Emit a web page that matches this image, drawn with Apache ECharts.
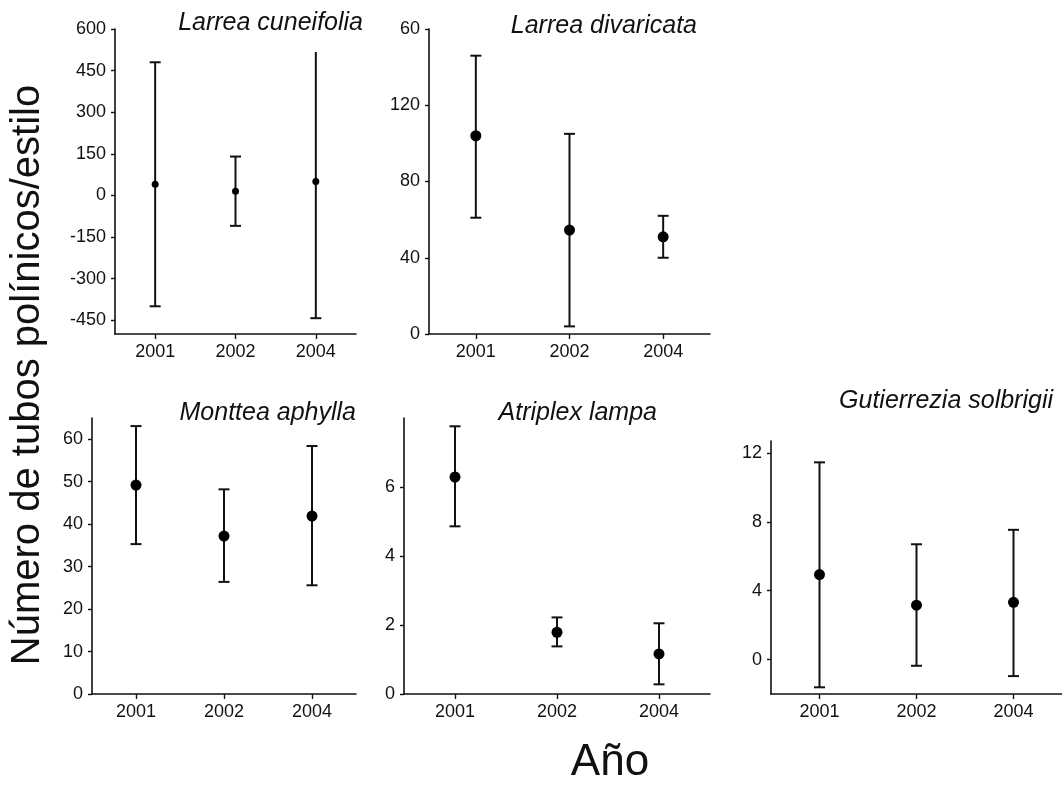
<!DOCTYPE html>
<html>
<head>
<meta charset="utf-8">
<script src="https://cdn.jsdelivr.net/npm/echarts@6/dist/echarts.min.js"></script>
<style>
html,body{margin:0;padding:0;background:#fff;}
#c{width:1062px;height:789px;}
</style>
</head>
<body>
<div id="c"></div>
<script>
// ---- data ----
const categories = ['2001', '2002', '2004'];

const lcTitle = 'Larrea cuneifolia';
const lcMean = [40, 15, 50];
const lcLow  = [-400, -110, -443];
const lcHigh = [480, 140, 517];
const lcTicks = [-450, -300, -150, 0, 150, 300, 450, 600];

const ldTitle = 'Larrea divaricata';
const ldMean = [104, 54.5, 51];
const ldLow  = [61, 4, 40];
const ldHigh = [146, 105, 62];
const ldTicks = [0, 40, 80, 120, 160];
const ldTickLabels = ['0', '40', '80', '120', '60'];

const maTitle = 'Monttea aphylla';
const maMean = [49.2, 37.2, 41.9];
const maLow  = [35.3, 26.4, 25.6];
const maHigh = [63.1, 48.2, 58.4];
const maTicks = [0, 10, 20, 30, 40, 50, 60];

const alTitle = 'Atriplex lampa';
const alMean = [6.29, 1.79, 1.16];
const alLow  = [4.86, 1.38, 0.28];
const alHigh = [7.76, 2.22, 2.05];
const alTicks = [0, 2, 4, 6];

const gsTitle = 'Gutierrezia solbrigii';
const gsMean = [4.94, 3.16, 3.33];
const gsLow  = [-1.61, -0.36, -0.96];
const gsHigh = [11.46, 6.70, 7.54];
const gsTicks = [0, 4, 8, 12];

const yTitle = 'Número de tubos polínicos/estilo';
const xTitle = 'Año';

// ---- layout / styles ----
const INK = '#111';
const FONT = "'Liberation Sans', Arial, Helvetica, sans-serif";

const panels = [
  {mean: lcMean, low: lcLow, high: lcHigh, min: -500, max: 600, ticks: lcTicks, labels: null,
   grid: {left: 115, top: 29, width: 241, height: 305}, sym: 7, capTop: [true, true, false]},
  {mean: ldMean, low: ldLow, high: ldHigh, min: 0, max: 160, ticks: ldTicks, labels: ldTickLabels,
   grid: {left: 429, top: 29, width: 281, height: 305}, sym: 11},
  {mean: maMean, low: maLow, high: maHigh, min: 0, max: 65, ticks: maTicks, labels: null,
   grid: {left: 92, top: 418, width: 264, height: 276}, sym: 11},
  {mean: alMean, low: alLow, high: alHigh, min: 0, max: 8, ticks: alTicks, labels: null,
   grid: {left: 404, top: 418, width: 306, height: 276}, sym: 11},
  {mean: gsMean, low: gsLow, high: gsHigh, min: -2, max: 12.7, ticks: gsTicks, labels: null,
   grid: {left: 771, top: 441, width: 291, height: 253}, sym: 11}
];

const titles = [
  {text: lcTitle, x: 363, y: 36},
  {text: ldTitle, x: 697, y: 39},
  {text: maTitle, x: 356, y: 426},
  {text: alTitle, x: 657, y: 426},
  {text: gsTitle, x: 1053, y: 414}
];

const grids = [], xAxes = [], yAxes = [], series = [];

panels.forEach((p, i) => {
  grids.push(Object.assign({containLabel: false}, p.grid));
  xAxes.push({
    type: 'category', gridIndex: i, data: categories, boundaryGap: true,
    axisLine: {show: true, onZero: false, lineStyle: {color: INK, width: 1.6}},
    axisTick: {show: true, alignWithLabel: true, length: 5, lineStyle: {color: INK, width: 1.4}},
    axisLabel: {color: INK, fontSize: 18, fontFamily: FONT, margin: 9},
    splitLine: {show: false}
  });
  const yl = {
    color: INK, fontSize: 18, fontFamily: FONT, margin: 9,
    customValues: p.ticks
  };
  if (p.labels) {
    const labs = p.labels, tks = p.ticks;
    yl.formatter = v => { const k = tks.indexOf(v); return k >= 0 ? labs[k] : ''; };
  }
  yAxes.push({
    type: 'value', gridIndex: i, min: p.min, max: p.max,
    axisLine: {show: true, onZero: false, lineStyle: {color: INK, width: 1.6}},
    axisTick: {show: true, length: 4, customValues: p.ticks, lineStyle: {color: INK, width: 1.4}},
    axisLabel: yl,
    splitLine: {show: false}
  });
  const capTop = p.capTop || [true, true, true];
  series.push({
    type: 'custom', xAxisIndex: i, yAxisIndex: i,
    data: p.mean.map((m, k) => [k, p.low[k], p.high[k]]),
    encode: {x: 0, y: [1, 2]},
    renderItem: (params, api) => {
      const k = api.value(0);
      const lo = api.coord([k, api.value(1)]);
      const hi = api.coord([k, api.value(2)]);
      const hw = 5.5;
      const st = {stroke: INK, lineWidth: 2};
      const ch = [
        {type: 'line', shape: {x1: lo[0], y1: lo[1], x2: hi[0], y2: hi[1]}, style: st},
        {type: 'line', shape: {x1: lo[0] - hw, y1: lo[1], x2: lo[0] + hw, y2: lo[1]}, style: st}
      ];
      if (capTop[params.dataIndex]) {
        ch.push({type: 'line', shape: {x1: hi[0] - hw, y1: hi[1], x2: hi[0] + hw, y2: hi[1]}, style: st});
      }
      return {type: 'group', children: ch};
    },
    z: 2
  });
  series.push({
    type: 'scatter', xAxisIndex: i, yAxisIndex: i,
    data: p.mean, symbol: 'circle', symbolSize: p.sym,
    itemStyle: {color: '#000', opacity: 1}, z: 3
  });
});

const graphics = titles.map(t => ({
  type: 'text', x: t.x, y: t.y,
  style: {text: t.text, fill: INK, textAlign: 'right', textVerticalAlign: 'bottom',
          font: "italic 25px 'Liberation Sans', Arial, sans-serif"}
}));
graphics.push({
  type: 'text', x: 28, y: 375, rotation: Math.PI / 2,
  style: {text: yTitle, fill: INK, textAlign: 'center', textVerticalAlign: 'middle',
          font: "40px 'Liberation Sans', Arial, sans-serif"}
});
graphics.push({
  type: 'text', x: 610, y: 785,
  style: {text: xTitle, fill: INK, textAlign: 'center', textVerticalAlign: 'bottom',
          font: "44px 'Liberation Sans', Arial, sans-serif"}
});

const chart = echarts.init(document.getElementById('c'), null, {renderer: 'canvas'});
chart.setOption({
  animation: false,
  backgroundColor: '#fff',
  grid: grids, xAxis: xAxes, yAxis: yAxes, series: series,
  graphic: graphics
});
</script>
</body>
</html>
